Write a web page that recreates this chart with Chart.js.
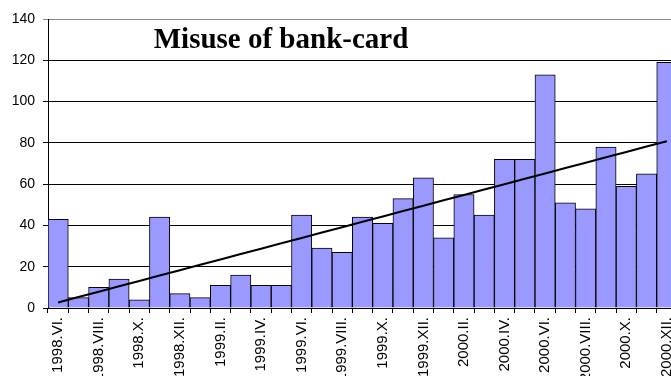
<!DOCTYPE html>
<html>
<head>
<meta charset="utf-8">
<script src="https://cdn.jsdelivr.net/npm/chart.js@4"></script>
<style>
  html, body { margin: 0; padding: 0; background: #fff; overflow: hidden; }
  #misuseChart { display: block; }
</style>
</head>
<body>
<canvas id="misuseChart" width="700" height="400"></canvas>
<script>
// monthly cases, 1998.VI. .. 2000.XII.
const months = [
  '1998.VI.', '1998.VII.', '1998.VIII.', '1998.IX.', '1998.X.', '1998.XI.', '1998.XII.',
  '1999.I.', '1999.II.', '1999.III.', '1999.IV.', '1999.V.', '1999.VI.', '1999.VII.',
  '1999.VIII.', '1999.IX.', '1999.X.', '1999.XI.', '1999.XII.',
  '2000.I.', '2000.II.', '2000.III.', '2000.IV.', '2000.V.', '2000.VI.', '2000.VII.',
  '2000.VIII.', '2000.IX.', '2000.X.', '2000.XI.', '2000.XII.'
];
const cases = [
  43, 5, 10, 14, 4, 44, 7,
  5, 11, 16, 11, 11, 45, 29,
  27, 44, 41, 53, 63,
  34, 55, 45, 72, 72, 113, 51,
  48, 78, 59, 65, 119
];
const yTicks = [0, 20, 40, 60, 80, 100, 120, 140];

// linear trend (least squares) over the month index
function linearTrend(values) {
  const n = values.length;
  const mx = (n - 1) / 2;
  const my = values.reduce((a, b) => a + b, 0) / n;
  let sxy = 0, sxx = 0;
  values.forEach((v, i) => {
    sxy += (i - mx) * (v - my);
    sxx += (i - mx) * (i - mx);
  });
  const slope = sxy / sxx;
  return values.map((v, i) => my + slope * (i - mx));
}
const trend = linearTrend(cases);

const titlePlugin = {
  id: 'chartTitle',
  afterDraw(chart) {
    const ctx = chart.ctx;
    ctx.save();
    ctx.font = 'bold 29px "Liberation Serif", "Times New Roman", serif';
    ctx.fillStyle = '#000';
    ctx.textAlign = 'center';
    ctx.textBaseline = 'alphabetic';
    ctx.fillText('Misuse of bank-card', 281, 48);
    ctx.restore();
  }
};

const yFont = { family: '"Liberation Sans", Arial, sans-serif', size: 14 };
const xFont = { family: '"Liberation Sans", Arial, sans-serif', size: 15 };

new Chart(document.getElementById('misuseChart').getContext('2d'), {
  type: 'bar',
  data: {
    labels: months,
    datasets: [
      {
        type: 'line',
        data: trend,
        borderColor: '#000',
        borderWidth: 2,
        pointRadius: 0,
        tension: 0,
        order: 0
      },
      {
        data: cases,
        backgroundColor: '#9999ff',
        borderColor: '#000',
        borderWidth: 1,
        barPercentage: 1,
        categoryPercentage: 1,
        order: 1
      }
    ]
  },
  options: {
    responsive: false,
    animation: false,
    layout: { padding: { top: 19, right: 23, left: 0, bottom: 0 } },
    plugins: { legend: { display: false }, tooltip: { enabled: false } },
    scales: {
      x: {
        offset: true,
        afterFit(scale) { scale.height = 92; },
        grid: { offset: true, drawOnChartArea: false, tickLength: 5, color: '#000' },
        border: { color: '#000' },
        ticks: {
          autoSkip: false,
          minRotation: 90,
          maxRotation: 90,
          padding: 4,
          color: '#000',
          font: xFont,
          callback(value, index) { return index % 2 === 0 ? this.getLabelForValue(value) : ''; }
        }
      },
      y: {
        min: 0,
        max: 140,
        afterFit(scale) { scale.width = 48; },
        afterBuildTicks(scale) { scale.ticks = yTicks.map(v => ({ value: v })); },
        grid: {
          tickLength: 5,
          color: c => (c.tick && c.tick.value === 140 ? '#888' : '#000')
        },
        border: { color: '#000' },
        ticks: { padding: 8, color: '#000', font: yFont }
      }
    }
  },
  plugins: [titlePlugin]
});
</script>
</body>
</html>
